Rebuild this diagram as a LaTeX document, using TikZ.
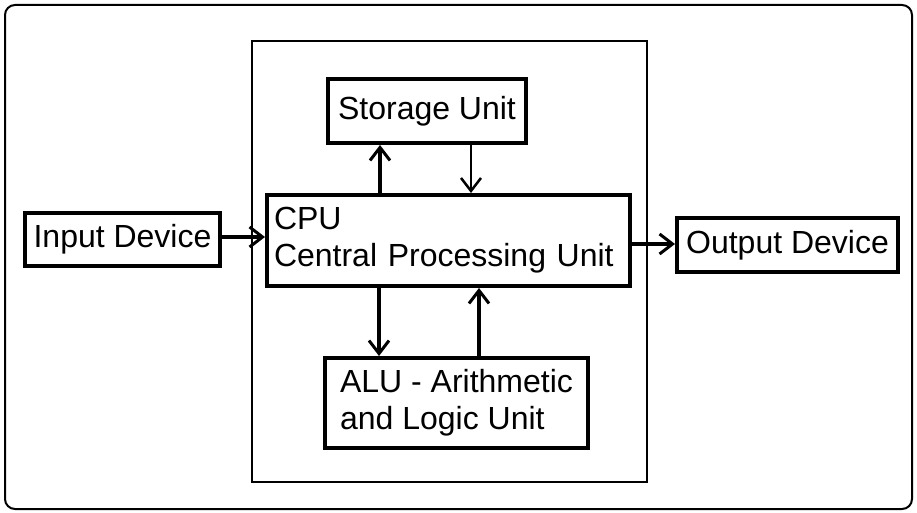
\documentclass[tikz,border=0pt]{standalone}
\usepackage{fontspec}
\setmainfont{Liberation Sans}
\usetikzlibrary{arrows.meta}
\begin{document}
\begin{tikzpicture}[x=1pt,y=-1pt,
  box/.style={draw,line width=4pt,rectangle,inner sep=0pt,font=\fontsize{32}{37}\selectfont},
  arr/.style={line width=3.5pt,-{Straight Barb[length=13pt,width=20pt,line width=3pt]}},
  thinarr/.style={line width=2.5pt,-{Straight Barb[length=13pt,width=20pt,line width=2.5pt]}}]
\useasboundingbox (0,0) rectangle (917,513);
% outer frame and CPU enclosure
\draw[line width=2pt,rounded corners=10pt] (5,5) rectangle (912,509);
\draw[line width=1.8pt] (252,41) rectangle (647,482);
% nodes
\node[box,minimum width=195pt,minimum height=53pt] (input) at (122.5,239.5) {Input Device};
\node[box,minimum width=198pt,minimum height=64pt] (storage) at (427,111) {Storage Unit};
\node[box,minimum width=363pt,minimum height=91pt,align=left,text width=349pt] (cpu) at (448.5,240.5) {CPU\\Central Processing Unit};
\node[box,minimum width=221pt,minimum height=54pt] (output) at (787.5,245) {Output Device};
\node[box,minimum width=263pt,minimum height=90pt,align=left] (alu) at (456.5,403) {ALU - Arithmetic\\and Logic Unit};
% helper coordinates
\coordinate (c380) at (380,0);
\coordinate (c471) at (471,0);
\coordinate (c379) at (379,0);
\coordinate (c479) at (479,0);
\coordinate (r237) at (0,237);
\coordinate (r244) at (0,244);
% connectors
\draw[arr] (input.east |- r237) -- (cpu.west |- r237);
\draw[arr] (cpu.east |- r244) -- (output.west |- r244);
\draw[arr] (cpu.north -| c380) -- (storage.south -| c380);
\draw[thinarr] (storage.south -| c471) -- (cpu.north -| c471);
\draw[arr] (cpu.south -| c379) -- (alu.north -| c379);
\draw[arr] (alu.north -| c479) -- (cpu.south -| c479);
\end{tikzpicture}
\end{document}
